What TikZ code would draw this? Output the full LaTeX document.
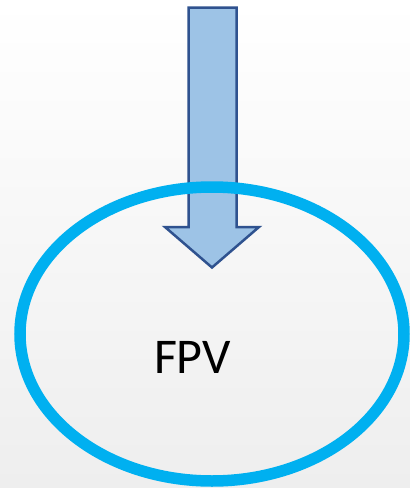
\documentclass[tikz,border=0pt]{standalone}
\usepackage{fontspec}
\setmainfont{Carlito}
\definecolor{ringblue}{RGB}{0,176,240}
\definecolor{arrowfill}{RGB}{157,195,230}
\definecolor{arrowline}{RGB}{47,82,143}
\definecolor{bgbottom}{RGB}{238,238,238}
\begin{document}
\begin{tikzpicture}[x=1pt,y=-1pt,
  blockarrow/.style={fill=arrowfill,draw=arrowline,line width=2.5pt,line join=miter},
  ring/.style={draw=ringblue,line width=11.5pt},
  label/.style={font=\fontsize{50}{60}\selectfont,text=black,inner sep=0pt}]
\shade[top color=white,bottom color=bgbottom] (0,0) rectangle (410,488);
\useasboundingbox (0,0) rectangle (410,488);
\draw[blockarrow] (188.5,7.5) -- (236.5,7.5) -- (236.5,227) -- (259,227) -- (212,267.5) -- (165,227) -- (188.5,227) -- cycle;
\draw[ring] (212,334) ellipse [x radius=192, y radius=147];
\node[label,anchor=base] (fpv) at (192.5,373) {FPV};
\end{tikzpicture}
\end{document}
